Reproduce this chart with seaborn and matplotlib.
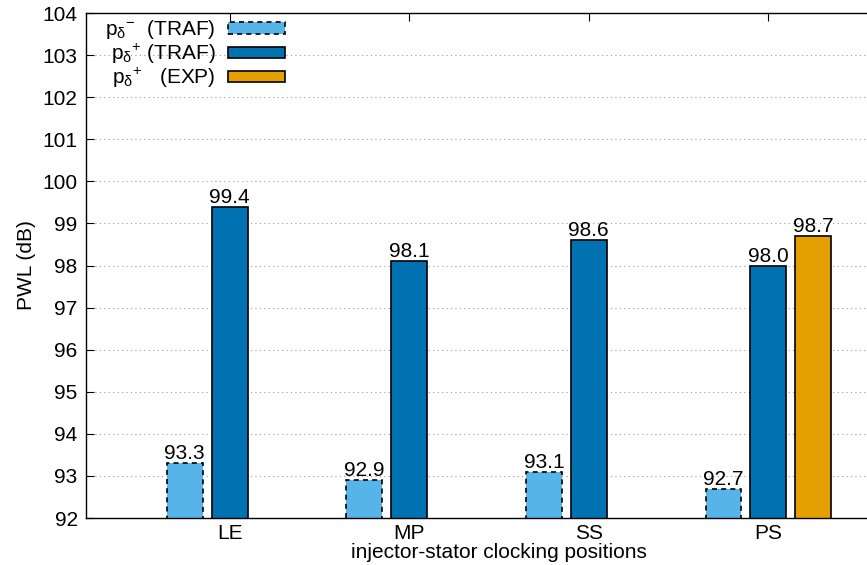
import matplotlib
matplotlib.use("Agg")
import matplotlib.pyplot as plt
import seaborn as sns
import pandas as pd

# Data
positions = ["LE", "MP", "SS", "PS"]
series_names = [r"$\mathrm{{p_{\delta}}^{-}}$  (TRAF)",
                r"$\mathrm{{p_{\delta}}^{+}}$ (TRAF)",
                r"$\mathrm{{p_{\delta}}^{+}}$   (EXP)"]
pwl_minus_traf = [93.3, 92.9, 93.1, 92.7]
pwl_plus_traf = [99.4, 98.1, 98.6, 98.0]
pwl_plus_exp_pos = ["PS"]
pwl_plus_exp = [98.7]
colors = ["#56B4E9", "#0072B2", "#E69F00"]

rows = []
for p, v in zip(positions, pwl_minus_traf):
    rows.append((p, series_names[0], v))
for p, v in zip(positions, pwl_plus_traf):
    rows.append((p, series_names[1], v))
for p, v in zip(pwl_plus_exp_pos, pwl_plus_exp):
    rows.append((p, series_names[2], v))
df = pd.DataFrame(rows, columns=["position", "series", "pwl"])

sns.set_style("ticks")
plt.rcParams["font.family"] = ["Liberation Sans", "DejaVu Sans"]
plt.rcParams["mathtext.fontset"] = "custom"
plt.rcParams["mathtext.rm"] = "Liberation Sans"
plt.rcParams["mathtext.it"] = "Liberation Sans:italic"
plt.rcParams["mathtext.bf"] = "Liberation Sans:bold"
plt.rcParams["text.color"] = "black"
plt.rcParams["axes.labelcolor"] = "black"
plt.rcParams["xtick.color"] = "black"
plt.rcParams["ytick.color"] = "black"

FS = 15

fig = plt.figure(figsize=(8.67, 5.65), dpi=100)
# the plot area runs past the right edge of the canvas
ax = fig.add_axes([86 / 867, 1 - 518 / 565, 826 / 867, 505 / 565])

sns.barplot(data=df, x="position", y="pwl", hue="series",
            order=positions, hue_order=series_names, palette=colors,
            saturation=1, width=0.75, gap=0.2, dodge=True, errorbar=None,
            edgecolor="black", linewidth=1.2, ax=ax, zorder=3)

for bar in ax.containers[0]:
    bar.set_linestyle((0, (3, 2.5)))

for cont in ax.containers:
    ax.bar_label(cont, fmt="%.1f", padding=0, fontsize=FS, zorder=4)

ax.set_ylim(92, 104)
ax.set_yticks(range(92, 105))
ax.set_xlim(-0.8, 3.8)

ax.yaxis.grid(True, linestyle=(0, (1, 3)), color="#999999", linewidth=0.8, zorder=0)
ax.set_axisbelow(True)

ax.tick_params(axis="both", direction="in", top=True, right=True,
               length=6, width=0.8, labelsize=FS)
ax.tick_params(axis="y", pad=6)
ax.tick_params(axis="x", pad=4)
for s in ax.spines.values():
    s.set_linewidth(1.0)
    s.set_color("black")
    s.set_zorder(5)

ax.set_xlabel("injector-stator clocking positions", fontsize=FS, labelpad=0)
ax.set_ylabel("PWL (dB)", fontsize=FS, labelpad=5)

leg = ax.legend(loc="upper left", bbox_to_anchor=(0.007, 1.016), frameon=False,
                markerfirst=False, fontsize=FS, handlelength=2.7, handleheight=0.45,
                handletextpad=0.6, labelspacing=0.0, borderaxespad=0.25)
leg.legend_handles[0].set_linestyle((0, (3, 2.5)))

fig.savefig("out.png", dpi=100)
